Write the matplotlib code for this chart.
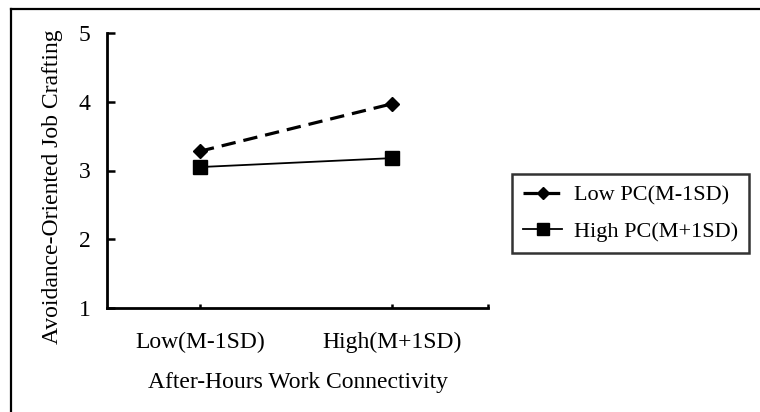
import matplotlib
matplotlib.use('Agg')
import matplotlib.pyplot as plt
from matplotlib.lines import Line2D

plt.rcParams['font.family'] = ['Liberation Serif', 'DejaVu Serif']

# data
groups = ['Low(M-1SD)', 'High(M+1SD)']
low_pc = [3.28, 3.97]
high_pc = [3.05, 3.18]
series_labels = ['Low PC(M-1SD)', 'High PC(M+1SD)']
y_ticks = [1, 2, 3, 4, 5]

W, H = 760, 412
FS = 17
fig = plt.figure(figsize=(W / 100, H / 100), dpi=100)
ax = fig.add_axes([107 / W, 1 - 308 / H, (488 - 107) / W, (308 - 33) / H])

x = list(range(len(groups)))
ax.plot(x, low_pc, color='black', lw=2.3, ls=(0, (4.5, 2.5)), marker='D',
        ms=7.5, mfc='black', mec='black', label=series_labels[0])
ax.plot(x, high_pc, color='black', lw=1.3, ls='-', marker='s',
        ms=10, mfc='black', mec='black', label=series_labels[1])

ax.set_xlim(-0.484, 1.5)
ax.set_ylim(1, 5)
ax.set_yticks(y_ticks)
ax.set_yticklabels([str(t) for t in y_ticks])
ax.set_xticks([0, 1, 1.5])
ax.set_xticklabels(groups + [''])

ax.tick_params(axis='y', direction='in', length=6, width=1.8, pad=12,
               labelsize=FS)
ax.tick_params(axis='x', direction='in', length=3, width=1.8, pad=17,
               labelsize=FS)
for sp in ('top', 'right'):
    ax.spines[sp].set_visible(False)
for sp in ('left', 'bottom'):
    ax.spines[sp].set_linewidth(2.0)

ax.set_xlabel('After-Hours Work Connectivity', fontsize=FS, labelpad=14)
ax.set_ylabel('Avoidance-Oriented Job Crafting', fontsize=FS)
ax.yaxis.set_label_coords(-0.115, 0.44)

leg = ax.legend(loc='upper left', bbox_to_anchor=(512 / W, 1 - 174 / H),
                bbox_transform=fig.transFigure, borderaxespad=0,
                fontsize=16, frameon=True, fancybox=False,
                handlelength=1.75, handletextpad=0.55, borderpad=0.5,
                labelspacing=0.7, markerscale=0.85)
leg.get_frame().set_edgecolor('black')
leg.get_frame().set_linewidth(1.8)

# partial outer border (top and left only)
fig.add_artist(Line2D([11 / W, 1], [1 - 9 / H, 1 - 9 / H], color='black',
                      lw=1.6, transform=fig.transFigure))
fig.add_artist(Line2D([11 / W, 11 / W], [0, 1 - 9 / H], color='black',
                      lw=1.6, transform=fig.transFigure))

fig.savefig('out.png', dpi=100)
